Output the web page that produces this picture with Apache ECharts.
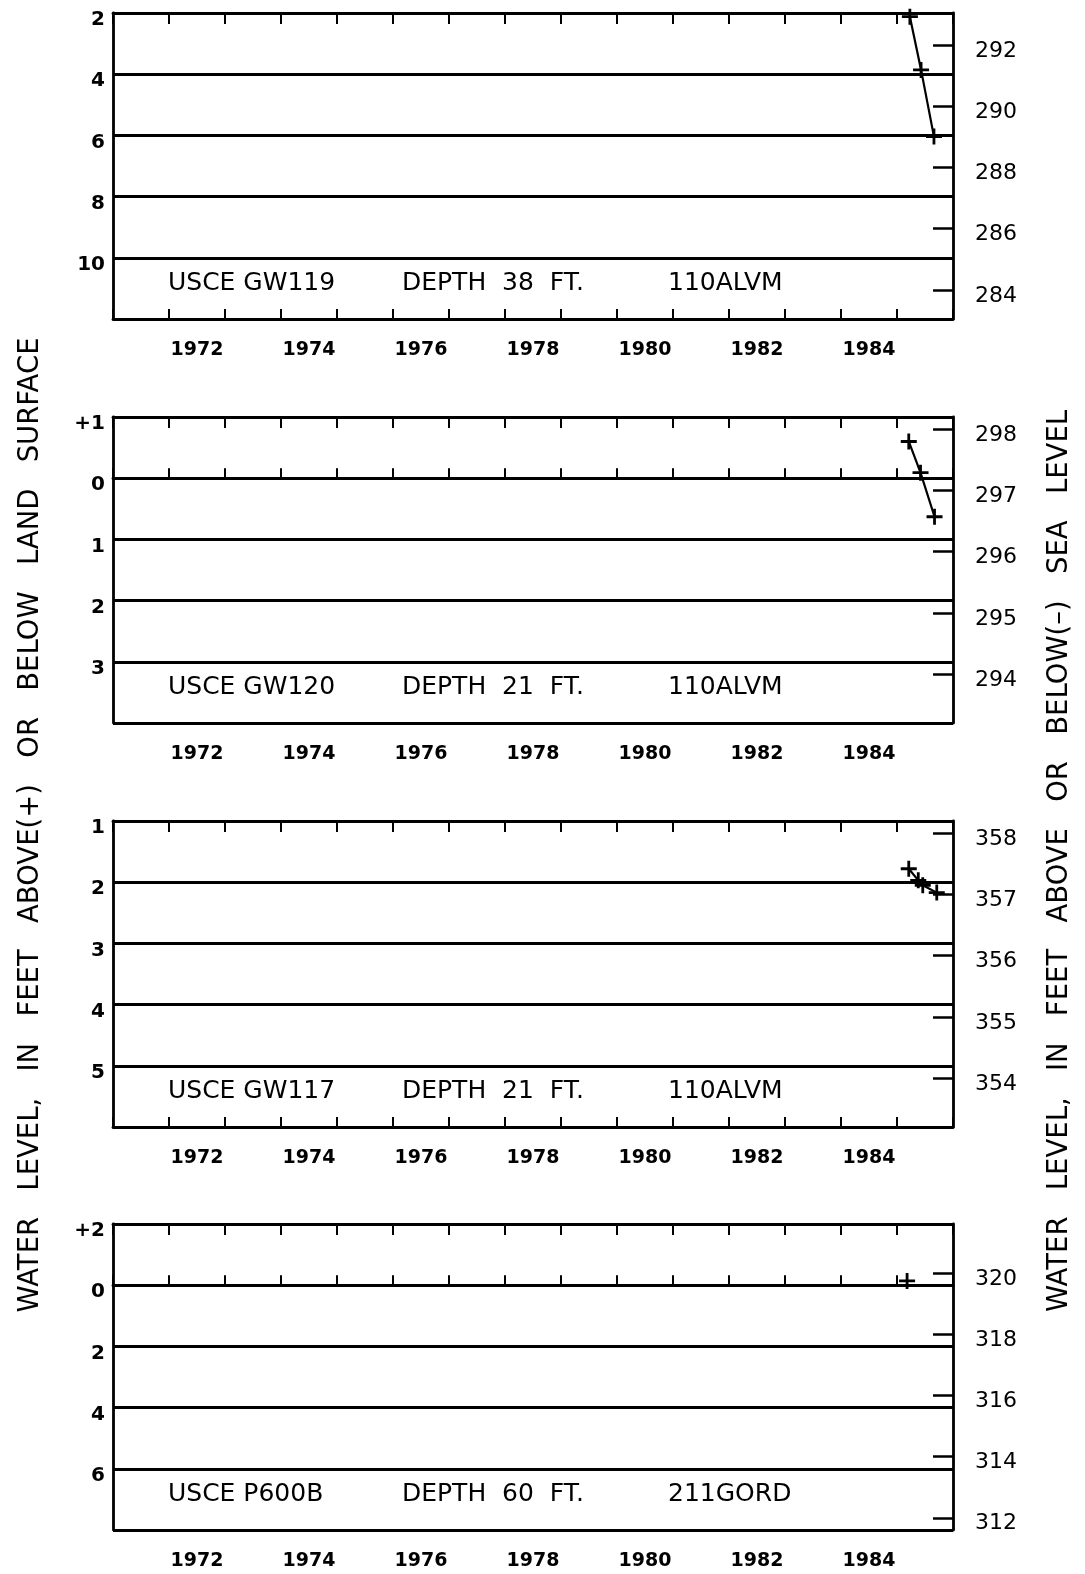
<!DOCTYPE html>
<html>
<head>
<meta charset="utf-8">
<script src="https://cdn.jsdelivr.net/npm/echarts@6/dist/echarts.min.js"></script>
<style>
  html, body { margin: 0; padding: 0; background: #fff; }
  #chart { width: 1085px; height: 1574px; }
</style>
</head>
<body>
<div id="chart"></div>
<script>
// well annotations, one per panel (top to bottom)
const wellIds = ['USCE GW119', 'USCE GW120', 'USCE GW117', 'USCE P600B']
const wellDepths = ['DEPTH 38 FT.', 'DEPTH 21 FT.', 'DEPTH 21 FT.', 'DEPTH 60 FT.']
const aquifers = ['110ALVM', '110ALVM', '110ALVM', '211GORD']

// measurements: decimal year and feet below land surface (negative = above)
const gw119Years = [1985.23, 1985.43, 1985.66]
const gw119Depth = [2.12, 3.86, 6.04]
const gw120Years = [1985.21, 1985.42, 1985.67]
const gw120Depth = [-0.6, -0.09, 0.63]
const gw117Years = [1985.21, 1985.38, 1985.46, 1985.71]
const gw117Depth = [1.78, 1.97, 2.05, 2.17]
const p600bYears = [1985.18]
const p600bDepth = [-0.14]

// axes
const yearMin = 1971
const yearMax = 1986
const yearLabels = [1972.5, 1974.5, 1976.5, 1978.5, 1980.5, 1982.5, 1984.5]
const depthMin = [2, -1, 1, -2]
const depthMax = [12, 4, 6, 8]
const depthStep = [2, 1, 1, 2]
// altitude (ft above sea level) at the top edge of each panel
const altitudeTop = [293.05, 298.2, 358.2, 321.6]
const altitudeTicks = [
  [284, 286, 288, 290, 292],
  [294, 295, 296, 297, 298],
  [354, 355, 356, 357, 358],
  [312, 314, 316, 318, 320]
]

const panelYears = [gw119Years, gw120Years, gw117Years, p600bYears]
const panelDepth = [gw119Depth, gw120Depth, gw117Depth, p600bDepth]

const font = 'DejaVu Sans'
const black = '#000'
const frame = { color: black, width: 2.8 }
const plusPath = 'path://M0,6.6h16v2.8h-16z M6.6,0h2.8v16h-2.8z'

const panelTops = [13, 417, 821, 1224]
const panelLeft = 113
const panelWidth = 840
const panelHeight = 306

const grids = []
const xAxes = []
const yAxes = []
const series = []
const graphics = []

panelTops.forEach((top, i) => {
  grids.push({ left: panelLeft, width: panelWidth, top: top, height: panelHeight })

  // bottom year axis with labels centred in the year
  xAxes.push({
    gridIndex: i, type: 'value', position: 'bottom',
    min: yearMin, max: yearMax, interval: 1,
    axisLine: { show: true, lineStyle: frame },
    axisTick: { show: true, inside: true, length: 10, lineStyle: { color: black, width: 2 } },
    axisLabel: {
      customValues: yearLabels,
      formatter: v => String(Math.floor(v)),
      margin: 22, color: black, fontFamily: font, fontWeight: 'bold', fontSize: 19
    },
    splitLine: { show: false }
  })
  // top edge, ticks only
  xAxes.push({
    gridIndex: i, type: 'value', position: 'top',
    min: yearMin, max: yearMax, interval: 1,
    axisLine: { show: true, lineStyle: frame },
    axisTick: { show: true, inside: true, length: 11, lineStyle: { color: black, width: 2 } },
    axisLabel: { show: false },
    splitLine: { show: false }
  })

  // left: depth below land surface
  const dMax = depthMax[i]
  yAxes.push({
    gridIndex: i, type: 'value', position: 'left', inverse: true,
    min: depthMin[i], max: dMax, interval: depthStep[i],
    axisLine: { show: true, lineStyle: frame },
    axisTick: { show: false },
    splitLine: { show: true, lineStyle: frame },
    axisLabel: {
      showMinLabel: true,
      formatter: v => (v === dMax ? '' : (v < 0 ? '+' + (-v) : String(v))),
      margin: 8, verticalAlign: 'top', lineHeight: 14,
      color: black, fontFamily: font, fontWeight: 'bold', fontSize: 20
    }
  })
  // right: altitude above sea level
  const span = depthMax[i] - depthMin[i]
  yAxes.push({
    gridIndex: i, type: 'value', position: 'right',
    min: altitudeTop[i] - span, max: altitudeTop[i],
    axisLine: { show: true, lineStyle: frame },
    axisTick: { show: true, inside: true, length: 20, customValues: altitudeTicks[i], lineStyle: { color: black, width: 2.5 } },
    splitLine: { show: false },
    axisLabel: {
      customValues: altitudeTicks[i],
      margin: 22, verticalAlign: 'top', lineHeight: 12,
      color: black, fontFamily: font, fontSize: 22
    }
  })

  series.push({
    type: 'line',
    xAxisIndex: 2 * i, yAxisIndex: 2 * i,
    data: panelYears[i].map((yr, k) => [yr, panelDepth[i][k]]),
    symbol: plusPath, symbolSize: 16, showSymbol: true,
    lineStyle: { color: black, width: 2.2 },
    itemStyle: { color: black },
    z: 5
  })

  const textY = top + 270
  const textStyle = { fontFamily: font, fontSize: 25, fill: black, verticalAlign: 'middle' }
  graphics.push({ type: 'text', x: 168, y: textY, style: Object.assign({ text: wellIds[i] }, textStyle) })
  graphics.push({ type: 'text', x: 402, y: textY, style: Object.assign({ text: wellDepths[i].replace(/ /g, '  ') }, textStyle) })
  graphics.push({ type: 'text', x: 668, y: textY, style: Object.assign({ text: aquifers[i] }, textStyle) })
})

// side titles
graphics.push({
  type: 'text', x: 31, y: 825, rotation: Math.PI / 2,
  style: {
    text: 'WATER   LEVEL,   IN   FEET   ABOVE(+)   OR   BELOW   LAND   SURFACE',
    fontFamily: font, fontSize: 27.5, fill: black, align: 'center', verticalAlign: 'middle'
  }
})
graphics.push({
  type: 'text', x: 1060, y: 861, rotation: Math.PI / 2,
  style: {
    text: 'WATER   LEVEL,   IN   FEET   ABOVE   OR   BELOW(\u2013)   SEA   LEVEL',
    fontFamily: font, fontSize: 27.5, fill: black, align: 'center', verticalAlign: 'middle'
  }
})

const chart = echarts.init(document.getElementById('chart'))
chart.setOption({
  backgroundColor: '#fff',
  animation: false,
  grid: grids,
  xAxis: xAxes,
  yAxis: yAxes,
  series: series,
  graphic: graphics
})
</script>
</body>
</html>
